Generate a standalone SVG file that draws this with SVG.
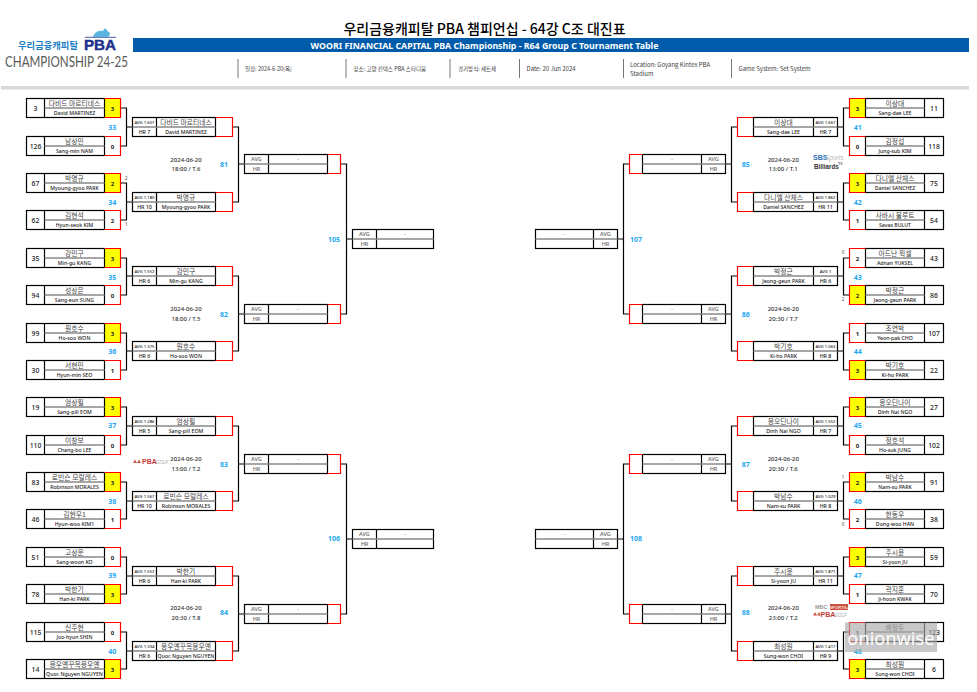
<svg xmlns="http://www.w3.org/2000/svg" width="977" height="692" viewBox="0 0 977 692">
<style>
text{font-family:"Noto Sans","Noto Sans CJK KR",sans-serif;text-anchor:middle;fill:#222}
.k{font-family:"Noto Sans CJK KR","Noto Sans",sans-serif;font-size:6.8px;fill:#444}
.e{font-size:5.2px;font-weight:500;fill:#222}
.s{font-size:6.8px;font-weight:500}
.c{font-size:6px;font-weight:700}
.a{font-size:4.2px;font-weight:500}
.h{font-size:5.3px;font-weight:500}
.m{font-size:5.6px;font-weight:500;fill:#666}
.d{font-size:6px;font-weight:500;fill:#333}
.b{font-size:7px;font-weight:700;fill:#1ea7f0}
.t{font-size:4.5px;fill:#444}
.i{font-family:"Noto Sans CJK KR","Noto Sans",sans-serif;font-size:5.5px;fill:#444;text-anchor:start}
.f{fill:none;stroke:#000;stroke-width:1.2}
.r{fill:none;stroke:#f00;stroke-width:1.2}
.g{fill:none;stroke:#888;stroke-width:1.3}
.y{fill:#ff0}
.sep{stroke:#777;stroke-width:1}
#connectors path{fill:none;stroke:#000;stroke-width:1.2}
</style>
<defs>
<g id="L1"><rect class="f" width="78" height="19"/><path class="f" d="M18,0V19"/><path class="g" d="M18,9.5H78"/><path class="r" d="M78,0H94V19H78"/></g>
<g id="R1"><rect class="f" x="16" width="78" height="19"/><path class="f" d="M75,0V19"/><path class="g" d="M16,9.5H75"/><path class="r" d="M16,0H0V19H16"/></g>
<g id="L2"><rect class="f" width="83" height="19"/><path class="f" d="M24,0V19"/><path class="g" d="M0,9.5H83"/><path class="r" d="M83,0H100V19H83"/></g>
<g id="R2"><rect class="f" x="16" width="84" height="19"/><path class="f" d="M76,0V19"/><path class="g" d="M16,9.5H100"/><path class="r" d="M16,0H0V19H16"/></g>
<g id="L3"><rect class="f" width="83" height="19"/><path class="f" d="M24,0V19"/><path class="g" d="M0,9.5H83"/><path class="r" d="M83,0H96V19H83"/></g>
<g id="R3"><rect class="f" x="13" width="83" height="19"/><path class="f" d="M72,0V19"/><path class="g" d="M13,9.5H96"/><path class="r" d="M13,0H0V19H13"/></g>
<g id="L4"><rect class="f" width="81" height="19"/><path class="f" d="M24,0V19"/><path class="g" d="M0,9.5H81"/></g>
<g id="R4"><rect class="f" width="82" height="19"/><path class="f" d="M58,0V19"/><path class="g" d="M0,9.5H82"/></g>
<rect id="YL" class="y" x="78" width="16" height="19"/>
<rect id="YR" class="y" width="16" height="19"/>
</defs>

<g id="header">
<text x="484.5" y="34" style="font-family:'Noto Sans CJK KR',sans-serif;font-size:14px;font-weight:500;fill:#000">우리금융캐피탈 PBA 챔피언십 - 64강 C조 대진표</text>
<rect x="133" y="38" width="836" height="14" fill="#005baa"/>
<text x="484.5" y="48.8" style="font-size:8.8px;font-weight:700;fill:#fff">WOORI FINANCIAL CAPITAL PBA Championship - R64 Group C Tournament Table</text>
<rect x="1" y="86" width="968" height="3.5" fill="#d9d9d9"/>
<path class="sep" d="M238,59V78M346,59V78M450,59V78M519.5,59V78M623.5,59V78M731.5,59V78"/>
<text class="i" x="245" y="71">일정: 2024-6-20(목)</text>
<text class="i" x="353.5" y="71">장소: 고양 킨텍스 PBA 스타디움</text>
<text class="i" x="458" y="71">경기방식: 세트제</text>
<text class="i" x="526.5" y="71" style="font-size:6px">Date: 20 Jun 2024</text>
<text class="i" x="630" y="67" style="font-size:6px">Location: Goyang Kintex PBA</text>
<text class="i" x="630" y="76" style="font-size:6px">Stadium</text>
<text class="i" x="738.5" y="71" style="font-size:6px">Game System: Set System</text>
</g>

<g id="logo">
<path d="M85,37.3H116" stroke="#1b2f8c" stroke-width="0.8" fill="none"/>
<path d="M93,37C94,33 98,30 103,31C104,29 105,28 106,29C107,30 108,32 110,33C110,35 109,36 108,37Z" fill="#5bb5e0"/>
<text x="48" y="49" style="font-family:'Noto Sans CJK KR',sans-serif;font-size:9.3px;font-weight:700;fill:#1f7fc4">우리금융캐피탈</text>
<text x="100" y="50" textLength="32" lengthAdjust="spacingAndGlyphs" style="font-family:'Liberation Sans',sans-serif;font-size:14px;font-weight:700;fill:#1b2f8c;stroke:#1b2f8c;stroke-width:0.4">PBA</text>
<text x="66.5" y="67" textLength="123" lengthAdjust="spacingAndGlyphs" style="font-family:'Lato',sans-serif;font-size:14.5px;fill:#5a5a5a">CHAMPIONSHIP 24-25</text>
</g>

<g id="connectors">
<path d="M120.5,108H126.5V146H120.5M126.5,127H132.5M120.5,183H126.5V220H120.5M126.5,202H132.5M120.5,258H126.5V295H120.5M126.5,276H132.5M120.5,333H126.5V370H120.5M126.5,351H132.5M120.5,407H126.5V445H120.5M126.5,426H132.5M120.5,482H126.5V519H120.5M126.5,501H132.5M120.5,557H126.5V594H120.5M126.5,576H132.5M120.5,632H126.5V669H120.5M126.5,651H132.5"/>
<path d="M232.5,127H238.5V202H232.5M238.5,164H244.5M232.5,276H238.5V351H232.5M238.5,314H244.5M232.5,426H238.5V501H232.5M238.5,464H244.5M232.5,576H238.5V651H232.5M238.5,614H244.5"/>
<path d="M340.5,164H346.5V314H340.5M346.5,239H352.5M340.5,464H346.5V614H340.5M346.5,539H352.5"/>
<path d="M849.5,108H843.5V146H849.5M843.5,127H837.5M849.5,183H843.5V220H849.5M843.5,202H837.5M849.5,258H843.5V295H849.5M843.5,276H837.5M849.5,333H843.5V370H849.5M843.5,351H837.5M849.5,407H843.5V445H849.5M843.5,426H837.5M849.5,482H843.5V519H849.5M843.5,501H837.5M849.5,557H843.5V594H849.5M843.5,576H837.5M849.5,632H843.5V669H849.5M843.5,651H837.5"/>
<path d="M737.5,127H731.5V202H737.5M731.5,164H725.5M737.5,276H731.5V351H737.5M731.5,314H725.5M737.5,426H731.5V501H737.5M731.5,464H725.5M737.5,576H731.5V651H737.5M731.5,614H725.5"/>
<path d="M629.5,164H623.5V314H629.5M623.5,239H617.5M629.5,464H623.5V614H629.5M623.5,539H617.5"/>
</g>

<!-- Round 1 left -->
<g id="p3" transform="translate(26.5,98.5)"><use href="#YL"/><use href="#L1"/><text class="s" x="9" y="12">3</text><text class="k" x="48" y="7.7">다비드 마르티네스</text><text class="e" x="48" y="16.5">David MARTINEZ</text><text class="c" x="86" y="12">3</text></g>
<g id="p126" transform="translate(26.5,136.5)"><use href="#L1"/><text class="s" x="9" y="12">126</text><text class="k" x="48" y="7.7">남상민</text><text class="e" x="48" y="16.5">Sang-min NAM</text><text class="c" x="86" y="12">0</text></g>
<g id="p67" transform="translate(26.5,173.5)"><use href="#YL"/><use href="#L1"/><text class="s" x="9" y="12">67</text><text class="k" x="48" y="7.7">박명규</text><text class="e" x="48" y="16.5">Myoung-gyoo PARK</text><text class="c" x="86" y="12">2</text></g>
<g id="p62" transform="translate(26.5,210.5)"><use href="#L1"/><text class="s" x="9" y="12">62</text><text class="k" x="48" y="7.7">김현석</text><text class="e" x="48" y="16.5">Hyun-seok KIM</text><text class="c" x="86" y="12">2</text></g>
<g id="p35" transform="translate(26.5,248.5)"><use href="#YL"/><use href="#L1"/><text class="s" x="9" y="12">35</text><text class="k" x="48" y="7.7">강민구</text><text class="e" x="48" y="16.5">Min-gu KANG</text><text class="c" x="86" y="12">3</text></g>
<g id="p94" transform="translate(26.5,285.5)"><use href="#L1"/><text class="s" x="9" y="12">94</text><text class="k" x="48" y="7.7">성상은</text><text class="e" x="48" y="16.5">Sang-eun SUNG</text><text class="c" x="86" y="12">0</text></g>
<g id="p99" transform="translate(26.5,323.5)"><use href="#YL"/><use href="#L1"/><text class="s" x="9" y="12">99</text><text class="k" x="48" y="7.7">원호수</text><text class="e" x="48" y="16.5">Ho-soo WON</text><text class="c" x="86" y="12">3</text></g>
<g id="p30" transform="translate(26.5,360.5)"><use href="#L1"/><text class="s" x="9" y="12">30</text><text class="k" x="48" y="7.7">서현민</text><text class="e" x="48" y="16.5">Hyun-min SEO</text><text class="c" x="86" y="12">1</text></g>
<g id="p19" transform="translate(26.5,397.5)"><use href="#YL"/><use href="#L1"/><text class="s" x="9" y="12">19</text><text class="k" x="48" y="7.7">엄상필</text><text class="e" x="48" y="16.5">Sang-pill EOM</text><text class="c" x="86" y="12">3</text></g>
<g id="p110" transform="translate(26.5,435.5)"><use href="#L1"/><text class="s" x="9" y="12">110</text><text class="k" x="48" y="7.7">이창보</text><text class="e" x="48" y="16.5">Chang-bo LEE</text><text class="c" x="86" y="12">0</text></g>
<g id="p83" transform="translate(26.5,472.5)"><use href="#YL"/><use href="#L1"/><text class="s" x="9" y="12">83</text><text class="k" x="48" y="7.7">로빈슨 모랄레스</text><text class="e" x="48" y="16.5">Robinson MORALES</text><text class="c" x="86" y="12">3</text></g>
<g id="p46" transform="translate(26.5,509.5)"><use href="#L1"/><text class="s" x="9" y="12">46</text><text class="k" x="48" y="7.7">김현우1</text><text class="e" x="48" y="16.5">Hyun-woo KIM1</text><text class="c" x="86" y="12">1</text></g>
<g id="p51" transform="translate(26.5,547.5)"><use href="#L1"/><text class="s" x="9" y="12">51</text><text class="k" x="48" y="7.7">고상운</text><text class="e" x="48" y="16.5">Sang-woon KO</text><text class="c" x="86" y="12">0</text></g>
<g id="p78" transform="translate(26.5,584.5)"><use href="#YL"/><use href="#L1"/><text class="s" x="9" y="12">78</text><text class="k" x="48" y="7.7">박한기</text><text class="e" x="48" y="16.5">Han-ki PARK</text><text class="c" x="86" y="12">3</text></g>
<g id="p115" transform="translate(26.5,622.5)"><use href="#L1"/><text class="s" x="9" y="12">115</text><text class="k" x="48" y="7.7">신주현</text><text class="e" x="48" y="16.5">Joo-hyun SHIN</text><text class="c" x="86" y="12">0</text></g>
<g id="p14" transform="translate(26.5,659.5)"><use href="#YL"/><use href="#L1"/><text class="s" x="9" y="12">14</text><text class="k" x="48" y="7.7">응우옌꾸옥응우옌</text><text class="e" x="48" y="16.5">Quoc Nguyen NGUYEN</text><text class="c" x="86" y="12">3</text></g>

<!-- Round 1 right -->
<g id="p11" transform="translate(849.5,98.5)"><use href="#YR"/><use href="#R1"/><text class="c" x="8" y="12">3</text><text class="k" x="45.5" y="7.7">이상대</text><text class="e" x="45.5" y="16.5">Sang-dae LEE</text><text class="s" x="84.5" y="12">11</text></g>
<g id="p118" transform="translate(849.5,136.5)"><use href="#R1"/><text class="c" x="8" y="12">0</text><text class="k" x="45.5" y="7.7">김정섭</text><text class="e" x="45.5" y="16.5">Jung-sub KIM</text><text class="s" x="84.5" y="12">118</text></g>
<g id="p75" transform="translate(849.5,173.5)"><use href="#YR"/><use href="#R1"/><text class="c" x="8" y="12">3</text><text class="k" x="45.5" y="7.7">다니엘 산체스</text><text class="e" x="45.5" y="16.5">Daniel SANCHEZ</text><text class="s" x="84.5" y="12">75</text></g>
<g id="p54" transform="translate(849.5,210.5)"><use href="#R1"/><text class="c" x="8" y="12">1</text><text class="k" x="45.5" y="7.7">사바시 불루트</text><text class="e" x="45.5" y="16.5">Savas BULUT</text><text class="s" x="84.5" y="12">54</text></g>
<g id="p43" transform="translate(849.5,248.5)"><use href="#R1"/><text class="c" x="8" y="12">2</text><text class="k" x="45.5" y="7.7">아드난 윅셀</text><text class="e" x="45.5" y="16.5">Adnan YUKSEL</text><text class="s" x="84.5" y="12">43</text></g>
<g id="p86" transform="translate(849.5,285.5)"><use href="#YR"/><use href="#R1"/><text class="c" x="8" y="12">2</text><text class="k" x="45.5" y="7.7">박정근</text><text class="e" x="45.5" y="16.5">Jeong-geun PARK</text><text class="s" x="84.5" y="12">86</text></g>
<g id="p107" transform="translate(849.5,323.5)"><use href="#R1"/><text class="c" x="8" y="12">1</text><text class="k" x="45.5" y="7.7">조연박</text><text class="e" x="45.5" y="16.5">Yeon-pak CHO</text><text class="s" x="84.5" y="12">107</text></g>
<g id="p22" transform="translate(849.5,360.5)"><use href="#YR"/><use href="#R1"/><text class="c" x="8" y="12">3</text><text class="k" x="45.5" y="7.7">박기호</text><text class="e" x="45.5" y="16.5">Ki-ho PARK</text><text class="s" x="84.5" y="12">22</text></g>
<g id="p27" transform="translate(849.5,397.5)"><use href="#YR"/><use href="#R1"/><text class="c" x="8" y="12">3</text><text class="k" x="45.5" y="7.7">응오딘나이</text><text class="e" x="45.5" y="16.5">Dinh Nai NGO</text><text class="s" x="84.5" y="12">27</text></g>
<g id="p102" transform="translate(849.5,435.5)"><use href="#R1"/><text class="c" x="8" y="12">0</text><text class="k" x="45.5" y="7.7">정호석</text><text class="e" x="45.5" y="16.5">Ho-suk JUNG</text><text class="s" x="84.5" y="12">102</text></g>
<g id="p91" transform="translate(849.5,472.5)"><use href="#YR"/><use href="#R1"/><text class="c" x="8" y="12">2</text><text class="k" x="45.5" y="7.7">박남수</text><text class="e" x="45.5" y="16.5">Nam-su PARK</text><text class="s" x="84.5" y="12">91</text></g>
<g id="p38" transform="translate(849.5,509.5)"><use href="#R1"/><text class="c" x="8" y="12">2</text><text class="k" x="45.5" y="7.7">한동우</text><text class="e" x="45.5" y="16.5">Dong-woo HAN</text><text class="s" x="84.5" y="12">38</text></g>
<g id="p59" transform="translate(849.5,547.5)"><use href="#YR"/><use href="#R1"/><text class="c" x="8" y="12">3</text><text class="k" x="45.5" y="7.7">주시윤</text><text class="e" x="45.5" y="16.5">Si-yoon JU</text><text class="s" x="84.5" y="12">59</text></g>
<g id="p70" transform="translate(849.5,584.5)"><use href="#R1"/><text class="c" x="8" y="12">1</text><text class="k" x="45.5" y="7.7">곽지훈</text><text class="e" x="45.5" y="16.5">Ji-hoon KWAK</text><text class="s" x="84.5" y="12">70</text></g>
<g id="p123" transform="translate(849.5,622.5)"><use href="#R1"/><text class="c" x="8" y="12">1</text><text class="k" x="45.5" y="7.7">배정두</text><text class="s" x="84.5" y="12">123</text></g>
<g id="p6" transform="translate(849.5,659.5)"><use href="#YR"/><use href="#R1"/><text class="c" x="8" y="12">3</text><text class="k" x="45.5" y="7.7">최성원</text><text class="e" x="45.5" y="16.5">Sung-won CHOI</text><text class="s" x="84.5" y="12">6</text></g>

<!-- Round 2 left -->
<g id="q1" transform="translate(132.5,117.5)"><use href="#L2"/><text class="a" x="12" y="6.5">AVG 1.607</text><text class="h" x="12" y="16.3">HR 7</text><text class="k" x="53.5" y="7.7">다비드 마르티네스</text><text class="e" x="53.5" y="16.5">David MARTINEZ</text></g>
<g id="q2" transform="translate(132.5,192.5)"><use href="#L2"/><text class="a" x="12" y="6.5">AVG 1.180</text><text class="h" x="12" y="16.3">HR 10</text><text class="k" x="53.5" y="7.7">박명규</text><text class="e" x="53.5" y="16.5">Myoung-gyoo PARK</text></g>
<g id="q3" transform="translate(132.5,266.5)"><use href="#L2"/><text class="a" x="12" y="6.5">AVG 1.552</text><text class="h" x="12" y="16.3">HR 6</text><text class="k" x="53.5" y="7.7">강민구</text><text class="e" x="53.5" y="16.5">Min-gu KANG</text></g>
<g id="q4" transform="translate(132.5,341.5)"><use href="#L2"/><text class="a" x="12" y="6.5">AVG 1.375</text><text class="h" x="12" y="16.3">HR 6</text><text class="k" x="53.5" y="7.7">원호수</text><text class="e" x="53.5" y="16.5">Ho-soo WON</text></g>
<g id="q5" transform="translate(132.5,416.5)"><use href="#L2"/><text class="a" x="12" y="6.5">AVG 1.286</text><text class="h" x="12" y="16.3">HR 5</text><text class="k" x="53.5" y="7.7">엄상필</text><text class="e" x="53.5" y="16.5">Sang-pill EOM</text></g>
<g id="q6" transform="translate(132.5,491.5)"><use href="#L2"/><text class="a" x="12" y="6.5">AVG 1.567</text><text class="h" x="12" y="16.3">HR 10</text><text class="k" x="53.5" y="7.7">로빈슨 모랄레스</text><text class="e" x="53.5" y="16.5">Robinson MORALES</text></g>
<g id="q7" transform="translate(132.5,566.5)"><use href="#L2"/><text class="a" x="12" y="6.5">AVG 1.552</text><text class="h" x="12" y="16.3">HR 6</text><text class="k" x="53.5" y="7.7">박한기</text><text class="e" x="53.5" y="16.5">Han-ki PARK</text></g>
<g id="q8" transform="translate(132.5,641.5)"><use href="#L2"/><text class="a" x="12" y="6.5">AVG 1.334</text><text class="h" x="12" y="16.3">HR 6</text><text class="k" x="53.5" y="7.7">응우옌꾸옥응우옌</text><text class="e" x="53.5" y="16.5">Quoc Nguyen NGUYEN</text></g>

<!-- Round 2 right -->
<g id="q9" transform="translate(737.5,117.5)"><use href="#R2"/><text class="k" x="46" y="7.7">이상대</text><text class="e" x="46" y="16.5">Sang-dae LEE</text><text class="a" x="88" y="6.5">AVG 1.667</text><text class="h" x="88" y="16.3">HR 7</text></g>
<g id="q10" transform="translate(737.5,192.5)"><use href="#R2"/><text class="k" x="46" y="7.7">다니엘 산체스</text><text class="e" x="46" y="16.5">Daniel SANCHEZ</text><text class="a" x="88" y="6.5">AVG 1.862</text><text class="h" x="88" y="16.3">HR 11</text></g>
<g id="q11" transform="translate(737.5,266.5)"><use href="#R2"/><text class="k" x="46" y="7.7">박정근</text><text class="e" x="46" y="16.5">Jeong-geun PARK</text><text class="a" x="88" y="6.5">AVG 1</text><text class="h" x="88" y="16.3">HR 6</text></g>
<g id="q12" transform="translate(737.5,341.5)"><use href="#R2"/><text class="k" x="46" y="7.7">박기호</text><text class="e" x="46" y="16.5">Ki-ho PARK</text><text class="a" x="88" y="6.5">AVG 1.063</text><text class="h" x="88" y="16.3">HR 8</text></g>
<g id="q13" transform="translate(737.5,416.5)"><use href="#R2"/><text class="k" x="46" y="7.7">응오딘나이</text><text class="e" x="46" y="16.5">Dinh Nai NGO</text><text class="a" x="88" y="6.5">AVG 1.552</text><text class="h" x="88" y="16.3">HR 7</text></g>
<g id="q14" transform="translate(737.5,491.5)"><use href="#R2"/><text class="k" x="46" y="7.7">박남수</text><text class="e" x="46" y="16.5">Nam-su PARK</text><text class="a" x="88" y="6.5">AVG 1.029</text><text class="h" x="88" y="16.3">HR 8</text></g>
<g id="q15" transform="translate(737.5,566.5)"><use href="#R2"/><text class="k" x="46" y="7.7">주시윤</text><text class="e" x="46" y="16.5">Si-yoon JU</text><text class="a" x="88" y="6.5">AVG 1.871</text><text class="h" x="88" y="16.3">HR 11</text></g>
<g id="q16" transform="translate(737.5,641.5)"><use href="#R2"/><text class="k" x="46" y="7.7">최성원</text><text class="e" x="46" y="16.5">Sung-won CHOI</text><text class="a" x="88" y="6.5">AVG 1.417</text><text class="h" x="88" y="16.3">HR 9</text></g>

<!-- Round 3 -->
<g id="m81" transform="translate(244.5,154.5)"><use href="#L3"/><text class="m" x="12" y="6.8">AVG</text><text class="m" x="12" y="16.5">HR</text><text class="t" x="53.5" y="6.5">-</text></g>
<g id="m82" transform="translate(244.5,304.5)"><use href="#L3"/><text class="m" x="12" y="6.8">AVG</text><text class="m" x="12" y="16.5">HR</text><text class="t" x="53.5" y="6.5">-</text></g>
<g id="m83" transform="translate(244.5,454.5)"><use href="#L3"/><text class="m" x="12" y="6.8">AVG</text><text class="m" x="12" y="16.5">HR</text><text class="t" x="53.5" y="6.5">-</text></g>
<g id="m84" transform="translate(244.5,604.5)"><use href="#L3"/><text class="m" x="12" y="6.8">AVG</text><text class="m" x="12" y="16.5">HR</text><text class="t" x="53.5" y="6.5">-</text></g>
<g id="m85" transform="translate(629.5,154.5)"><use href="#R3"/><text class="t" x="42.5" y="6.5">-</text><text class="m" x="84" y="6.8">AVG</text><text class="m" x="84" y="16.5">HR</text></g>
<g id="m86" transform="translate(629.5,304.5)"><use href="#R3"/><text class="t" x="42.5" y="6.5">-</text><text class="m" x="84" y="6.8">AVG</text><text class="m" x="84" y="16.5">HR</text></g>
<g id="m87" transform="translate(629.5,454.5)"><use href="#R3"/><text class="t" x="42.5" y="6.5">-</text><text class="m" x="84" y="6.8">AVG</text><text class="m" x="84" y="16.5">HR</text></g>
<g id="m88" transform="translate(629.5,604.5)"><use href="#R3"/><text class="t" x="42.5" y="6.5">-</text><text class="m" x="84" y="6.8">AVG</text><text class="m" x="84" y="16.5">HR</text></g>

<!-- Round 4 -->
<g id="m105" transform="translate(352.5,229.5)"><use href="#L4"/><text class="m" x="12" y="6.8">AVG</text><text class="m" x="12" y="16.5">HR</text><text class="t" x="52.5" y="6.5">-</text></g>
<g id="m106" transform="translate(352.5,529.5)"><use href="#L4"/><text class="m" x="12" y="6.8">AVG</text><text class="m" x="12" y="16.5">HR</text><text class="t" x="52.5" y="6.5">-</text></g>
<g id="m107" transform="translate(535.5,229.5)"><use href="#R4"/><text class="t" x="29" y="6.5">-</text><text class="m" x="70" y="6.8">AVG</text><text class="m" x="70" y="16.5">HR</text></g>
<g id="m108" transform="translate(535.5,529.5)"><use href="#R4"/><text class="t" x="29" y="6.5">-</text><text class="m" x="70" y="6.8">AVG</text><text class="m" x="70" y="16.5">HR</text></g>

<g id="match-numbers">
<text class="b" x="112.3" y="129.5">33</text><text class="b" x="112.3" y="204.5">34</text><text class="b" x="112.3" y="279.5">35</text><text class="b" x="112.3" y="353.5">36</text><text class="b" x="112.3" y="428">37</text><text class="b" x="112.3" y="503.5">38</text><text class="b" x="112.3" y="578">39</text><text class="b" x="112.3" y="653.5">40</text>
<text class="b" x="857.7" y="129.5">41</text><text class="b" x="857.7" y="204.5">42</text><text class="b" x="857.7" y="279.5">43</text><text class="b" x="857.7" y="353.5">44</text><text class="b" x="857.7" y="428">45</text><text class="b" x="857.7" y="503.5">46</text><text class="b" x="857.7" y="578">47</text><text class="b" x="857.7" y="653.5">48</text>
<text class="b" x="224" y="166.5">81</text><text class="b" x="224" y="316.5">82</text><text class="b" x="224" y="466.5">83</text><text class="b" x="224" y="615">84</text>
<text class="b" x="745.7" y="166.5">85</text><text class="b" x="745.7" y="316.5">86</text><text class="b" x="745.7" y="466.5">87</text><text class="b" x="745.7" y="615">88</text>
<text class="b" x="334" y="241.5">105</text><text class="b" x="334" y="541">106</text><text class="b" x="636" y="241.5">107</text><text class="b" x="636" y="541">108</text>
</g>

<g id="schedule">
<text class="d" x="186" y="162">2024-06-20</text><text class="d" x="186" y="171">18:00 / T.6</text>
<text class="d" x="186" y="311">2024-06-20</text><text class="d" x="186" y="321">18:00 / T.5</text>
<text class="d" x="186" y="461">2024-06-20</text><text class="d" x="186" y="470.5">13:00 / T.2</text>
<text class="d" x="186" y="610">2024-06-20</text><text class="d" x="186" y="620">20:30 / T.8</text>
<text class="d" x="783.3" y="162">2024-06-20</text><text class="d" x="783.3" y="171">13:00 / T.1</text>
<text class="d" x="783.3" y="311">2024-06-20</text><text class="d" x="783.3" y="321">20:30 / T.7</text>
<text class="d" x="783.3" y="461">2024-06-20</text><text class="d" x="783.3" y="470.5">20:30 / T.6</text>
<text class="d" x="783.3" y="610">2024-06-20</text><text class="d" x="783.3" y="620">23:00 / T.2</text>
</g>

<g id="set-scores">
<text class="t" x="126.3" y="180">2</text><text class="t" x="126.3" y="226">1</text>
<text class="t" x="843" y="254">0</text><text class="t" x="843" y="301">2</text><text class="t" x="843" y="479">1</text><text class="t" x="843" y="526">0</text>
</g>

<g id="broadcast-logos">
<path d="M133,463L135,459.5L137,463L139,459.5L141,463Z" fill="#d0584a"/>
<text x="142" y="464.2" style="text-anchor:start;font-family:'Liberation Sans',sans-serif;font-size:7px;font-weight:700;fill:#c23a3a">PBA</text>
<text x="156" y="464" style="text-anchor:start;font-family:'Liberation Sans',sans-serif;font-size:4.5px;font-style:italic;fill:#aaa">GOLF</text>
<text x="813" y="160" style="text-anchor:start;font-family:'Liberation Sans',sans-serif;font-size:7px;font-weight:700;fill:#2a6fb5">SBS</text>
<text x="825" y="160" style="text-anchor:start;font-family:'Liberation Sans',sans-serif;font-size:6.5px;font-style:italic;fill:#bbb">Sports</text>
<text x="814" y="169" style="text-anchor:start;font-family:'Liberation Sans',sans-serif;font-size:6.3px;font-weight:700;fill:#333">Billiards</text>
<text x="838" y="165" style="text-anchor:start;font-family:'Liberation Sans',sans-serif;font-size:3.5px;font-weight:700;fill:#555">TV</text>
<text x="815" y="609" style="text-anchor:start;font-family:'Liberation Sans',sans-serif;font-size:5.5px;font-weight:700;fill:#999">MBC</text>
<rect x="830" y="604" width="18" height="6" fill="#c8513f"/>
<text x="839" y="608.8" style="font-family:'Liberation Sans',sans-serif;font-size:4.2px;font-weight:700;fill:#fbdcd6">SPORTS+</text>
<path d="M813,615.5L815,612L817,615.5L819,612L821,615.5Z" fill="#d0584a"/>
<text x="820.5" y="616.5" style="text-anchor:start;font-family:'Liberation Sans',sans-serif;font-size:7px;font-weight:700;fill:#c23a3a">PBA</text>
<text x="834.5" y="616.5" style="text-anchor:start;font-family:'Liberation Sans',sans-serif;font-size:4.5px;fill:#aaa">GOLF</text>
</g>

<g id="watermark">
<rect x="845" y="622.5" width="92" height="29.5" fill="#aaa" fill-opacity="0.65"/>
<text x="891" y="645" style="font-family:'Open Sans',sans-serif;font-size:18px;fill:#fff;letter-spacing:0.2px">onionwise</text>
</g>
</svg>
